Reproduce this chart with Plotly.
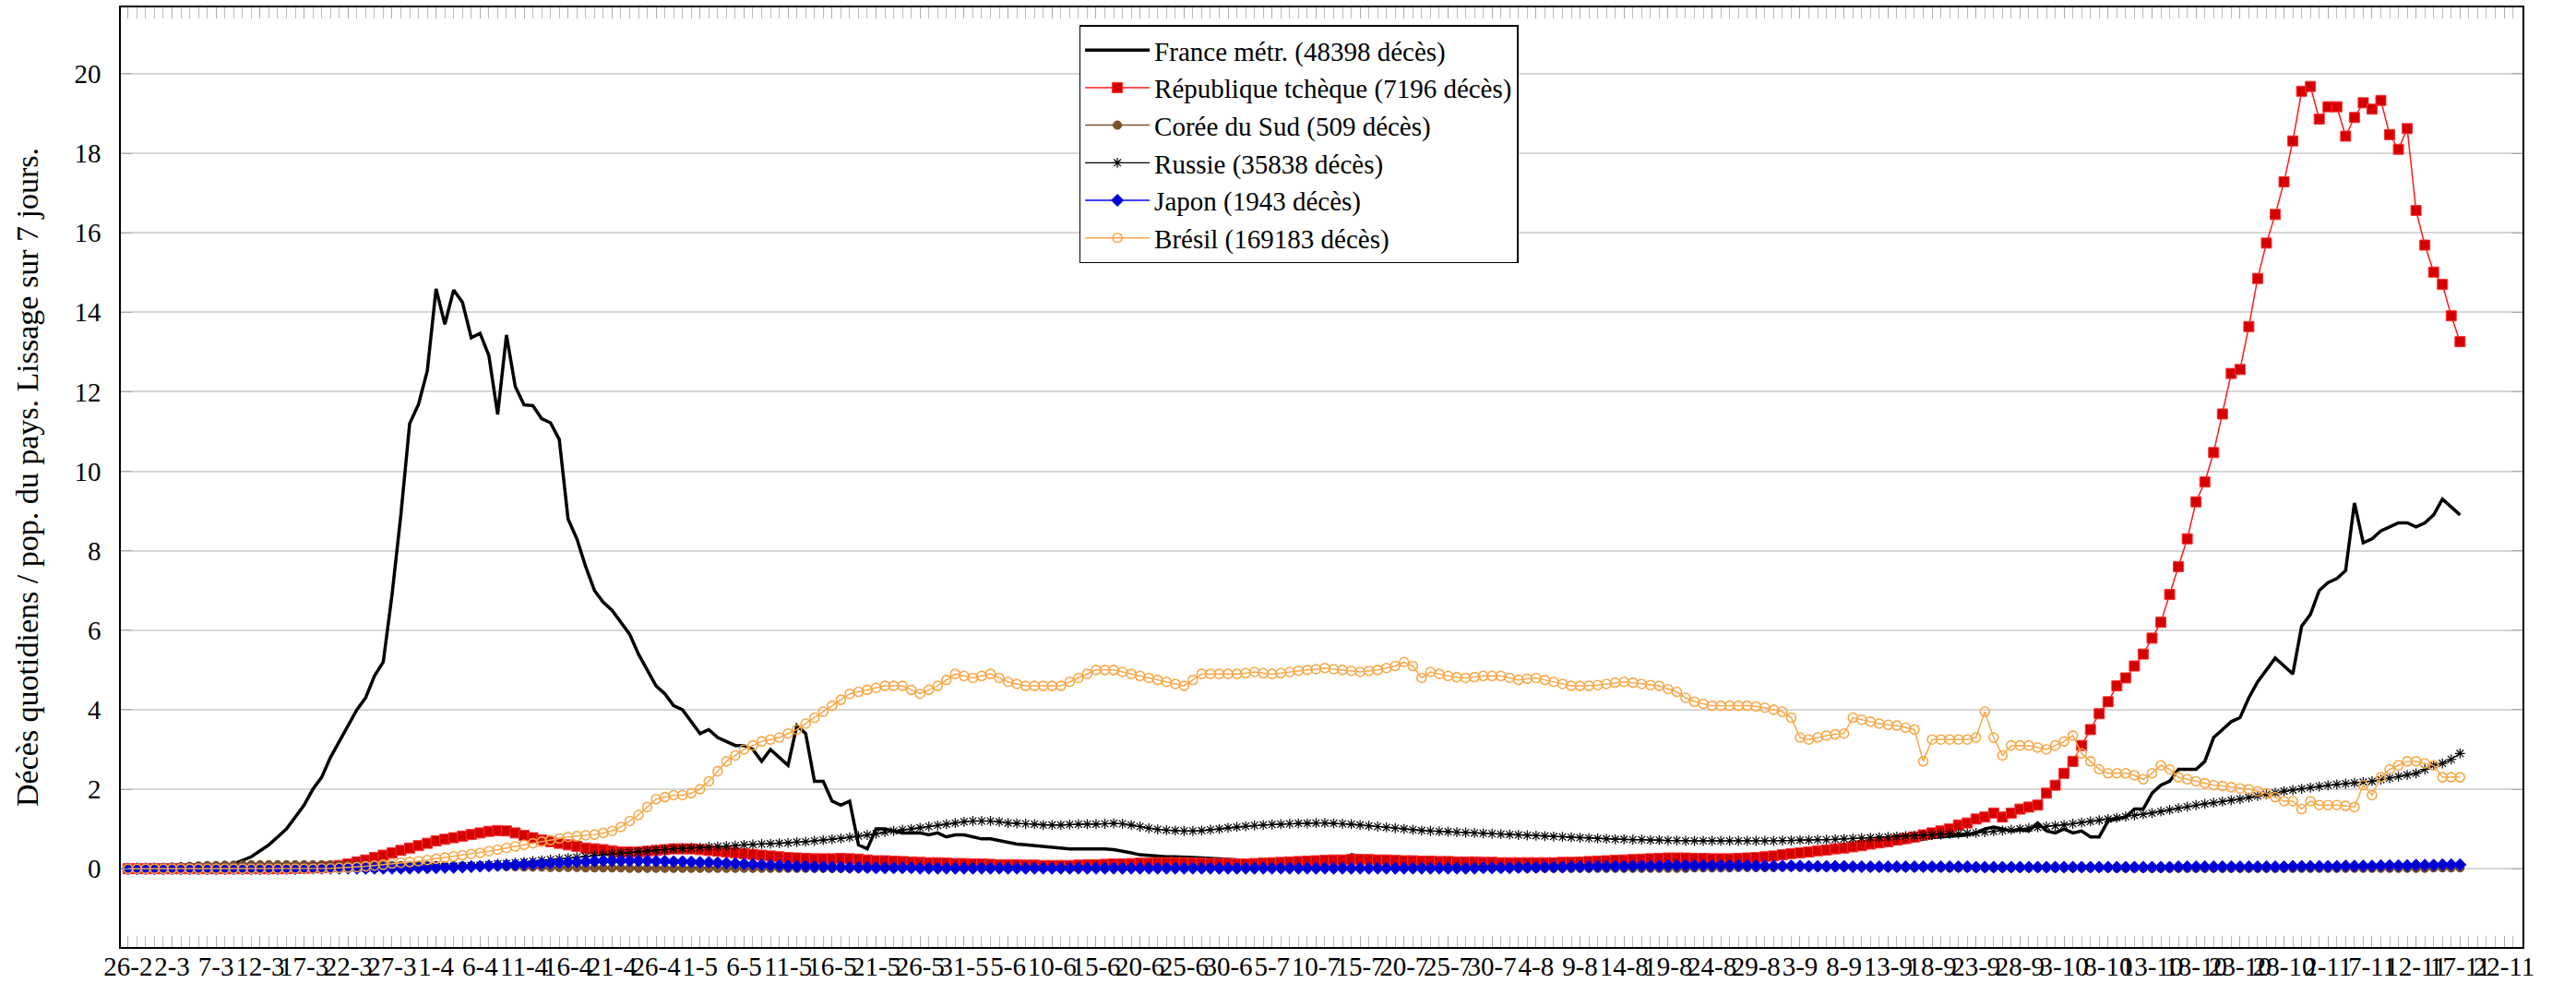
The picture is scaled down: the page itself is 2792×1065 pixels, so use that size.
import pandas as pd
import plotly.graph_objects as go

start_date = "2020-02-26"
n_days = 266

tick_labels = ["26-2", "2-3", "7-3", "12-3", "17-3", "22-3", "27-3", "1-4", "6-4", "11-4",
               "16-4", "21-4", "26-4", "1-5", "6-5", "11-5", "16-5", "21-5", "26-5", "31-5",
               "5-6", "10-6", "15-6", "20-6", "25-6", "30-6", "5-7", "10-7", "15-7", "20-7",
               "25-7", "30-7", "4-8", "9-8", "14-8", "19-8", "24-8", "29-8", "3-9", "8-9",
               "13-9", "18-9", "23-9", "28-9", "3-10", "8-10", "13-10", "18-10", "23-10", "28-10",
               "2-11", "7-11", "12-11", "17-11", "22-11"]

series_names = ["France métr. (48398 décès)", "République tchèque (7196 décès)",
                "Corée du Sud (509 décès)", "Russie (35838 décès)",
                "Japon (1943 décès)", "Brésil (169183 décès)"]

france = [
    0, 0, 0, 0, 0, 0, 0.01, 0.01, 0.01, 0.02,
    0.03, 0.05, 0.12, 0.2, 0.3, 0.45, 0.6, 0.8, 1.0, 1.3,
    1.6, 2.0, 2.3, 2.8, 3.2, 3.6, 4.0, 4.3, 4.85, 5.2,
    6.9, 8.9, 11.2, 11.68, 12.52, 14.59, 13.7, 14.56, 14.25, 13.36,
    13.47, 12.91, 11.43, 13.43, 12.13, 11.67, 11.65, 11.32, 11.22, 10.8,
    8.8, 8.3, 7.6, 7.0, 6.7, 6.5, 6.2, 5.9, 5.4, 5.0,
    4.6, 4.4, 4.1, 4.0, 3.7, 3.4, 3.5, 3.3, 3.2, 3.1,
    3.1, 3.0, 2.7, 3.0, 2.8, 2.6, 3.6, 3.4, 2.2, 2.2,
    1.7, 1.6, 1.7, 0.6, 0.5, 1.0, 1.0, 0.95, 0.9, 0.9,
    0.9, 0.85, 0.9, 0.8, 0.85, 0.85, 0.8, 0.75, 0.75, 0.7,
    0.65, 0.62, 0.6, 0.58, 0.55, 0.55, 0.52, 0.5, 0.5, 0.5,
    0.52, 0.5, 0.48, 0.45, 0.4, 0.35, 0.33, 0.32, 0.3, 0.3,
    0.3, 0.28, 0.27, 0.26, 0.25, 0.25, 0.24, 0.22, 0.2, 0.2,
    0.18, 0.16, 0.18, 0.2, 0.2, 0.2, 0.22, 0.2, 0.2, 0.35,
    0.32, 0.3, 0.3, 0.28, 0.25, 0.22, 0.2, 0.2, 0.2, 0.2,
    0.2, 0.2, 0.2, 0.2, 0.2, 0.2, 0.19, 0.18, 0.18, 0.18,
    0.18, 0.18, 0.17, 0.17, 0.16, 0.16, 0.15, 0.15, 0.15, 0.15,
    0.15, 0.16, 0.17, 0.18, 0.18, 0.19, 0.2, 0.2, 0.22, 0.22,
    0.24, 0.25, 0.26, 0.27, 0.28, 0.3, 0.3, 0.32, 0.33, 0.35,
    0.36, 0.38, 0.4, 0.42, 0.45, 0.47, 0.5, 0.52, 0.55, 0.57,
    0.6, 0.63, 0.66, 0.7, 0.75, 0.78, 0.8, 0.82, 0.85, 0.85,
    0.9, 1.0, 1.05, 1.0, 0.95, 0.98, 0.95, 1.15, 0.95, 0.9,
    1.0, 0.9, 0.95, 0.8, 0.8, 1.2, 1.25, 1.3, 1.5, 1.5,
    1.9, 2.1, 2.2, 2.5, 2.5, 2.5, 2.7, 3.3, 3.5, 3.7,
    3.8, 4.3, 4.7, 5.0, 5.3, 5.1, 4.9, 6.1, 6.4, 7.0,
    7.2, 7.3, 7.5, 9.2, 8.2, 8.3, 8.5, 8.6, 8.7, 8.7,
    8.6, 8.7, 8.9, 9.3, 9.1, 8.9,
]

czechia = [
    0, 0, 0, 0, 0, 0, 0, 0, 0, 0,
    0, 0, 0, 0, 0, 0, 0, 0, 0, 0.01,
    0.01, 0.02, 0.03, 0.05, 0.08, 0.12, 0.17, 0.22, 0.28, 0.34,
    0.4, 0.46, 0.52, 0.58, 0.64, 0.7, 0.74, 0.78, 0.82, 0.86,
    0.9, 0.94, 0.96, 0.95, 0.9, 0.84, 0.78, 0.72, 0.68, 0.64,
    0.6, 0.56, 0.52, 0.5, 0.48, 0.45, 0.42, 0.42, 0.42, 0.44,
    0.46, 0.48, 0.5, 0.5, 0.5, 0.48, 0.46, 0.44, 0.42, 0.4,
    0.38, 0.36, 0.34, 0.32, 0.3, 0.28, 0.27, 0.26, 0.25, 0.25,
    0.25, 0.26, 0.25, 0.24, 0.22, 0.2, 0.2, 0.19, 0.18, 0.17,
    0.16, 0.15, 0.15, 0.14, 0.13, 0.13, 0.12, 0.12, 0.11, 0.1,
    0.1, 0.1, 0.09, 0.09, 0.08, 0.08, 0.08, 0.08, 0.09, 0.1,
    0.1, 0.11, 0.12, 0.12, 0.13, 0.14, 0.14, 0.15, 0.15, 0.15,
    0.15, 0.14, 0.14, 0.13, 0.13, 0.13, 0.12, 0.12, 0.13, 0.14,
    0.15, 0.16, 0.17, 0.18, 0.19, 0.2, 0.21, 0.22, 0.22, 0.23,
    0.23, 0.23, 0.22, 0.22, 0.21, 0.2, 0.2, 0.19, 0.19, 0.18,
    0.18, 0.17, 0.17, 0.17, 0.16, 0.16, 0.15, 0.15, 0.15, 0.15,
    0.15, 0.15, 0.15, 0.16, 0.16, 0.17, 0.18, 0.19, 0.2, 0.21,
    0.22, 0.23, 0.24, 0.25, 0.26, 0.27, 0.27, 0.27, 0.26, 0.26,
    0.25, 0.25, 0.25, 0.26, 0.27, 0.28, 0.3, 0.32, 0.35, 0.38,
    0.4, 0.42, 0.45, 0.47, 0.5, 0.52, 0.55, 0.58, 0.62, 0.65,
    0.68, 0.72, 0.76, 0.8, 0.85, 0.9, 0.95, 1.0, 1.1, 1.15,
    1.25, 1.3, 1.4, 1.3, 1.4, 1.5, 1.55, 1.6, 1.9, 2.1,
    2.4, 2.7, 3.1, 3.5, 3.9, 4.2, 4.6, 4.8, 5.1, 5.4,
    5.8, 6.2, 6.9, 7.6, 8.3, 9.23, 9.73, 10.47, 11.44, 12.46,
    12.56, 13.64, 14.85, 15.74, 16.46, 17.28, 18.31, 19.56, 19.68, 18.86,
    19.17, 19.17, 18.43, 18.9, 19.27, 19.11, 19.33, 18.47, 18.1, 18.62,
    16.56, 15.69, 15.01, 14.7, 13.91, 13.26,
]

korea = [
    0.01, 0.01, 0.02, 0.03, 0.03, 0.04, 0.05, 0.06, 0.07, 0.08,
    0.08, 0.09, 0.09, 0.1, 0.1, 0.1, 0.1, 0.1, 0.1, 0.1,
    0.1, 0.1, 0.1, 0.1, 0.09, 0.09, 0.09, 0.09, 0.08, 0.08,
    0.08, 0.08, 0.08, 0.08, 0.08, 0.08, 0.07, 0.07, 0.07, 0.07,
    0.07, 0.06, 0.06, 0.05, 0.05, 0.04, 0.04, 0.04, 0.03, 0.03,
    0.03, 0.03, 0.02, 0.02, 0.02, 0.02, 0.02, 0.01, 0.01, 0.01,
    0.01, 0.01, 0.01, 0.01, 0.01, 0.01, 0.01, 0.01, 0.01, 0.01,
    0.01, 0.01, 0.01, 0.01, 0.01, 0.01, 0.01, 0.01, 0.01, 0.01,
    0.01, 0.01, 0.01, 0.01, 0.01, 0.01, 0.01, 0.01, 0.01, 0.01,
    0.01, 0.01, 0.01, 0.01, 0.01, 0.01, 0.01, 0.01, 0.01, 0.01,
    0.01, 0.01, 0.01, 0.01, 0.01, 0.01, 0.01, 0.01, 0.01, 0.01,
    0.01, 0.01, 0.01, 0.01, 0.01, 0.01, 0.01, 0.01, 0.01, 0.01,
    0.01, 0.01, 0.01, 0.01, 0.01, 0.01, 0.01, 0.01, 0.01, 0.01,
    0.01, 0.01, 0.01, 0.01, 0.01, 0.01, 0.01, 0.01, 0.01, 0.01,
    0.01, 0.01, 0.01, 0.01, 0.01, 0.01, 0.01, 0.01, 0.01, 0.01,
    0.01, 0.01, 0.01, 0.01, 0.01, 0.01, 0.01, 0.01, 0.01, 0.01,
    0.01, 0.01, 0.01, 0.01, 0.01, 0.01, 0.01, 0.01, 0.01, 0.01,
    0.01, 0.01, 0.01, 0.01, 0.01, 0.01, 0.01, 0.01, 0.02, 0.02,
    0.02, 0.02, 0.02, 0.03, 0.03, 0.03, 0.03, 0.03, 0.04, 0.04,
    0.04, 0.04, 0.04, 0.04, 0.04, 0.04, 0.04, 0.04, 0.03, 0.03,
    0.03, 0.03, 0.03, 0.03, 0.03, 0.03, 0.02, 0.02, 0.02, 0.02,
    0.02, 0.02, 0.02, 0.02, 0.02, 0.02, 0.02, 0.02, 0.02, 0.02,
    0.02, 0.02, 0.02, 0.02, 0.02, 0.02, 0.01, 0.01, 0.01, 0.01,
    0.01, 0.01, 0.01, 0.01, 0.01, 0.01, 0.01, 0.01, 0.01, 0.01,
    0.01, 0.01, 0.01, 0.01, 0.01, 0.01, 0.01, 0.01, 0.01, 0.01,
    0.01, 0.01, 0.01, 0.01, 0.01, 0.01, 0.01, 0.01, 0.01, 0.01,
    0.01, 0.01, 0.02, 0.02, 0.02, 0.02,
]

russia = [
    0, 0, 0, 0, 0, 0, 0, 0, 0, 0,
    0, 0, 0, 0, 0, 0, 0, 0, 0, 0,
    0, 0, 0, 0, 0, 0.01, 0.01, 0.01, 0.01, 0.02,
    0.02, 0.02, 0.03, 0.03, 0.04, 0.05, 0.05, 0.06, 0.07, 0.08,
    0.09, 0.1, 0.12, 0.13, 0.15, 0.17, 0.19, 0.21, 0.23, 0.25,
    0.27, 0.29, 0.31, 0.33, 0.35, 0.37, 0.39, 0.41, 0.43, 0.45,
    0.47, 0.48, 0.5, 0.51, 0.52, 0.53, 0.55, 0.56, 0.57, 0.58,
    0.6, 0.61, 0.62, 0.63, 0.64, 0.65, 0.67, 0.68, 0.7, 0.72,
    0.74, 0.76, 0.79, 0.82, 0.85, 0.88, 0.92, 0.95, 0.98, 1.0,
    1.03, 1.06, 1.09, 1.12, 1.15, 1.18, 1.2, 1.2, 1.2, 1.18,
    1.15, 1.14, 1.13, 1.12, 1.1, 1.1, 1.1, 1.11, 1.12, 1.12,
    1.12, 1.13, 1.14, 1.13, 1.1, 1.06, 1.02, 0.99, 0.97, 0.96,
    0.95, 0.95, 0.96, 0.98, 1.0, 1.03, 1.05, 1.07, 1.09, 1.1,
    1.11, 1.12, 1.13, 1.14, 1.14, 1.15, 1.15, 1.14, 1.13, 1.12,
    1.1, 1.08, 1.06, 1.04, 1.02, 1.0, 0.98, 0.96, 0.95, 0.94,
    0.93, 0.92, 0.91, 0.9, 0.89, 0.88, 0.87, 0.86, 0.85, 0.84,
    0.83, 0.82, 0.81, 0.8, 0.79, 0.78, 0.77, 0.76, 0.75, 0.74,
    0.74, 0.73, 0.73, 0.72, 0.72, 0.71, 0.71, 0.7, 0.7, 0.7,
    0.7, 0.7, 0.7, 0.7, 0.7, 0.7, 0.7, 0.7, 0.71, 0.71,
    0.72, 0.72, 0.73, 0.73, 0.74, 0.75, 0.76, 0.77, 0.78, 0.79,
    0.8, 0.81, 0.82, 0.83, 0.84, 0.85, 0.86, 0.87, 0.88, 0.89,
    0.9, 0.92, 0.94, 0.96, 0.98, 1.0, 1.02, 1.04, 1.06, 1.08,
    1.1, 1.13, 1.16, 1.19, 1.22, 1.25, 1.28, 1.31, 1.34, 1.37,
    1.4, 1.44, 1.48, 1.52, 1.56, 1.6, 1.63, 1.66, 1.69, 1.72,
    1.75, 1.79, 1.83, 1.87, 1.91, 1.95, 1.98, 2.01, 2.04, 2.07,
    2.1, 2.12, 2.14, 2.16, 2.18, 2.2, 2.24, 2.28, 2.32, 2.36,
    2.4, 2.5, 2.6, 2.65, 2.75, 2.9,
]

japan = [
    0, 0, 0, 0, 0, 0, 0, 0, 0, 0,
    0, 0, 0, 0, 0, 0, 0, 0, 0, 0,
    0.01, 0.01, 0.01, 0.01, 0.01, 0.01, 0.01, 0.01, 0.01, 0.01,
    0.01, 0.01, 0.01, 0.02, 0.02, 0.02, 0.03, 0.03, 0.04, 0.05,
    0.06, 0.07, 0.08, 0.09, 0.1, 0.11, 0.12, 0.13, 0.14, 0.15,
    0.16, 0.17, 0.18, 0.19, 0.2, 0.2, 0.2, 0.2, 0.2, 0.2,
    0.19, 0.19, 0.18, 0.18, 0.17, 0.16, 0.16, 0.15, 0.14, 0.13,
    0.12, 0.11, 0.1, 0.09, 0.08, 0.07, 0.06, 0.06, 0.05, 0.05,
    0.04, 0.04, 0.03, 0.03, 0.03, 0.02, 0.02, 0.02, 0.02, 0.02,
    0.01, 0.01, 0.01, 0.01, 0.01, 0.01, 0.01, 0.01, 0.01, 0.01,
    0.01, 0.01, 0.01, 0.01, 0.01, 0.01, 0.01, 0.01, 0.01, 0.01,
    0.01, 0.01, 0.01, 0.01, 0.01, 0.01, 0.01, 0.01, 0.01, 0.01,
    0.01, 0.01, 0.01, 0.01, 0.01, 0.01, 0.01, 0.01, 0.01, 0.01,
    0.01, 0.01, 0.01, 0.01, 0.01, 0.01, 0.01, 0.01, 0.01, 0.01,
    0.01, 0.01, 0.01, 0.01, 0.01, 0.01, 0.01, 0.01, 0.01, 0.01,
    0.01, 0.01, 0.01, 0.01, 0.02, 0.02, 0.02, 0.02, 0.03, 0.03,
    0.03, 0.04, 0.04, 0.04, 0.05, 0.05, 0.05, 0.06, 0.06, 0.06,
    0.06, 0.07, 0.07, 0.07, 0.07, 0.08, 0.08, 0.08, 0.08, 0.08,
    0.08, 0.08, 0.08, 0.08, 0.08, 0.07, 0.07, 0.07, 0.07, 0.07,
    0.07, 0.06, 0.06, 0.06, 0.06, 0.06, 0.05, 0.05, 0.05, 0.05,
    0.05, 0.05, 0.05, 0.05, 0.05, 0.05, 0.05, 0.05, 0.05, 0.05,
    0.04, 0.04, 0.04, 0.04, 0.04, 0.04, 0.04, 0.04, 0.04, 0.04,
    0.04, 0.04, 0.04, 0.04, 0.04, 0.04, 0.04, 0.04, 0.04, 0.04,
    0.04, 0.04, 0.04, 0.05, 0.05, 0.05, 0.05, 0.05, 0.05, 0.05,
    0.05, 0.05, 0.05, 0.05, 0.05, 0.05, 0.06, 0.06, 0.06, 0.06,
    0.06, 0.06, 0.07, 0.07, 0.07, 0.07, 0.08, 0.08, 0.08, 0.08,
    0.09, 0.09, 0.09, 0.1, 0.1, 0.1,
]

brazil = [
    0, 0, 0, 0, 0, 0, 0, 0, 0, 0,
    0, 0, 0, 0, 0, 0, 0, 0, 0, 0,
    0, 0, 0.01, 0.01, 0.02, 0.03, 0.04, 0.06, 0.08, 0.1,
    0.13, 0.15, 0.17, 0.19, 0.22, 0.25, 0.28, 0.31, 0.34, 0.37,
    0.4, 0.44, 0.48, 0.52, 0.56, 0.6, 0.64, 0.68, 0.72, 0.76,
    0.8, 0.82, 0.84, 0.86, 0.9, 0.95, 1.05, 1.2, 1.35, 1.55,
    1.75, 1.8, 1.85, 1.85, 1.9, 2.0, 2.2, 2.45, 2.7, 2.85,
    3.0, 3.1, 3.2, 3.25, 3.3, 3.4, 3.5, 3.65, 3.8, 3.95,
    4.1, 4.25, 4.4, 4.45, 4.5, 4.55, 4.6, 4.6, 4.6, 4.5,
    4.4, 4.5, 4.6, 4.75, 4.9, 4.85, 4.8, 4.85, 4.9, 4.8,
    4.7, 4.65, 4.6, 4.6, 4.6, 4.6, 4.6, 4.7, 4.8, 4.9,
    5.0, 5.0, 5.0, 4.95, 4.9, 4.85, 4.8, 4.75, 4.7, 4.65,
    4.6, 4.75, 4.9, 4.9, 4.9, 4.9, 4.9, 4.92, 4.95, 4.92,
    4.9, 4.92, 4.95, 4.98, 5.0, 5.02, 5.05, 5.02, 5.0, 4.98,
    4.95, 4.98, 5.0, 5.05, 5.1, 5.2, 5.1, 4.8, 4.95, 4.9,
    4.85, 4.82, 4.8, 4.82, 4.85, 4.85, 4.85, 4.8, 4.75, 4.78,
    4.8, 4.75, 4.7, 4.65, 4.6, 4.6, 4.6, 4.62, 4.65, 4.68,
    4.7, 4.68, 4.65, 4.62, 4.6, 4.52, 4.45, 4.3, 4.2, 4.15,
    4.1, 4.1, 4.1, 4.1, 4.1, 4.08, 4.05, 4.0, 3.95, 3.8,
    3.3, 3.25, 3.3, 3.35, 3.38, 3.4, 3.8, 3.75, 3.7, 3.65,
    3.62, 3.6, 3.55, 3.5, 2.7, 3.25, 3.25, 3.25, 3.25, 3.25,
    3.3, 3.95, 3.3, 2.85, 3.1, 3.1, 3.1, 3.05, 3.0, 3.1,
    3.2, 3.35, 2.9, 2.7, 2.5, 2.4, 2.4, 2.4, 2.35, 2.25,
    2.4, 2.6, 2.5, 2.3, 2.25, 2.2, 2.15, 2.1, 2.08, 2.05,
    2.02, 2.0, 1.95, 1.9, 1.8, 1.7, 1.7, 1.5, 1.7, 1.6,
    1.6, 1.6, 1.58, 1.55, 2.1, 1.85, 2.3, 2.5, 2.6, 2.7,
    2.7, 2.65, 2.6, 2.3, 2.3, 2.3,
]

dates = pd.date_range(start_date, periods=n_days, freq="D")
tick_dates = pd.date_range(start_date, periods=len(tick_labels), freq="5D")

FONT = "Liberation Serif"
FS = 29

fig = go.Figure()

fig.add_trace(go.Scatter(x=dates, y=france, name=series_names[0], mode="lines",
                         line=dict(color="black", width=3.5)))
fig.add_trace(go.Scatter(x=dates, y=czechia, name=series_names[1], mode="lines+markers",
                         line=dict(color="#ff1a1a", width=1.5),
                         marker=dict(symbol="square", size=11, color="#d40000",
                                     line=dict(color="#ff3030", width=1))))
fig.add_trace(go.Scatter(x=dates, y=korea, name=series_names[2], mode="lines+markers",
                         line=dict(color="#7a5230", width=1.5),
                         marker=dict(symbol="circle", size=9, color="#7f5328",
                                     line=dict(color="#6b4522", width=1))))
fig.add_trace(go.Scatter(x=dates, y=russia, name=series_names[3], mode="lines+markers",
                         line=dict(color="black", width=1.3),
                         marker=dict(symbol="asterisk-open", size=9,
                                     line=dict(color="black", width=1.2))))
fig.add_trace(go.Scatter(x=dates, y=japan, name=series_names[4], mode="lines+markers",
                         line=dict(color="#0000ff", width=1.5),
                         marker=dict(symbol="diamond", size=10, color="#0000d0",
                                     line=dict(color="#0000ff", width=1))))
fig.add_trace(go.Scatter(x=dates, y=brazil, name=series_names[5], mode="lines+markers",
                         line=dict(color="#f8a848", width=1.5),
                         marker=dict(symbol="circle-open", size=10, color="#f8a848",
                                     line=dict(color="#f8a848", width=1.6))))

fig.update_layout(
    width=2792, height=1065,
    margin=dict(l=131, r=58, t=8, b=39, autoexpand=False),
    paper_bgcolor="white", plot_bgcolor="white",
    font=dict(family=FONT, size=FS, color="black"),
    showlegend=True,
    legend=dict(x=0.399, y=0.981, xanchor="left", yanchor="top",
                bgcolor="white", bordercolor="black", borderwidth=1.5,
                font=dict(family=FONT, size=FS, color="black"),
                itemwidth=70, tracegroupgap=0),
)

fig.update_xaxes(
    type="date",
    range=["2020-02-25 04:20", "2020-11-24 02:20"],
    tickmode="array", tickvals=tick_dates, ticktext=tick_labels,
    tickangle=0,
    ticks="inside", ticklen=12, tickwidth=1.2, tickcolor="#aaaaaa",
    minor=dict(ticks="inside", dtick=86400000, tick0=start_date, ticklen=12,
               tickwidth=1.2, tickcolor="#bbbbbb", showgrid=False),
    showgrid=False, zeroline=False,
    showline=True, linecolor="black", linewidth=1.5, mirror="allticks",
    tickfont=dict(family=FONT, size=FS, color="black"),
    ticklabelstandoff=-6,
    automargin=False,
)

fig.update_yaxes(
    range=[-1.97, 21.67],
    tickmode="array", tickvals=[0, 2, 4, 6, 8, 10, 12, 14, 16, 18, 20],
    ticks="inside", ticklen=12, tickwidth=1.2, tickcolor="#aaaaaa",
    showgrid=True, gridcolor="#d6d6d6", gridwidth=1.5,
    zeroline=False,
    showline=True, linecolor="black", linewidth=1.5, mirror="allticks",
    tickfont=dict(family=FONT, size=FS, color="black"),
    ticklabelstandoff=14,
    title=dict(text="Décès quotidiens / pop. du pays. Lissage sur 7 jours.",
               font=dict(family=FONT, size=34, color="black"), standoff=29),
    automargin=False,
)

fig.write_html("out.html", config={"displayModeBar": False},
               post_script="document.body.style.margin='0';")
